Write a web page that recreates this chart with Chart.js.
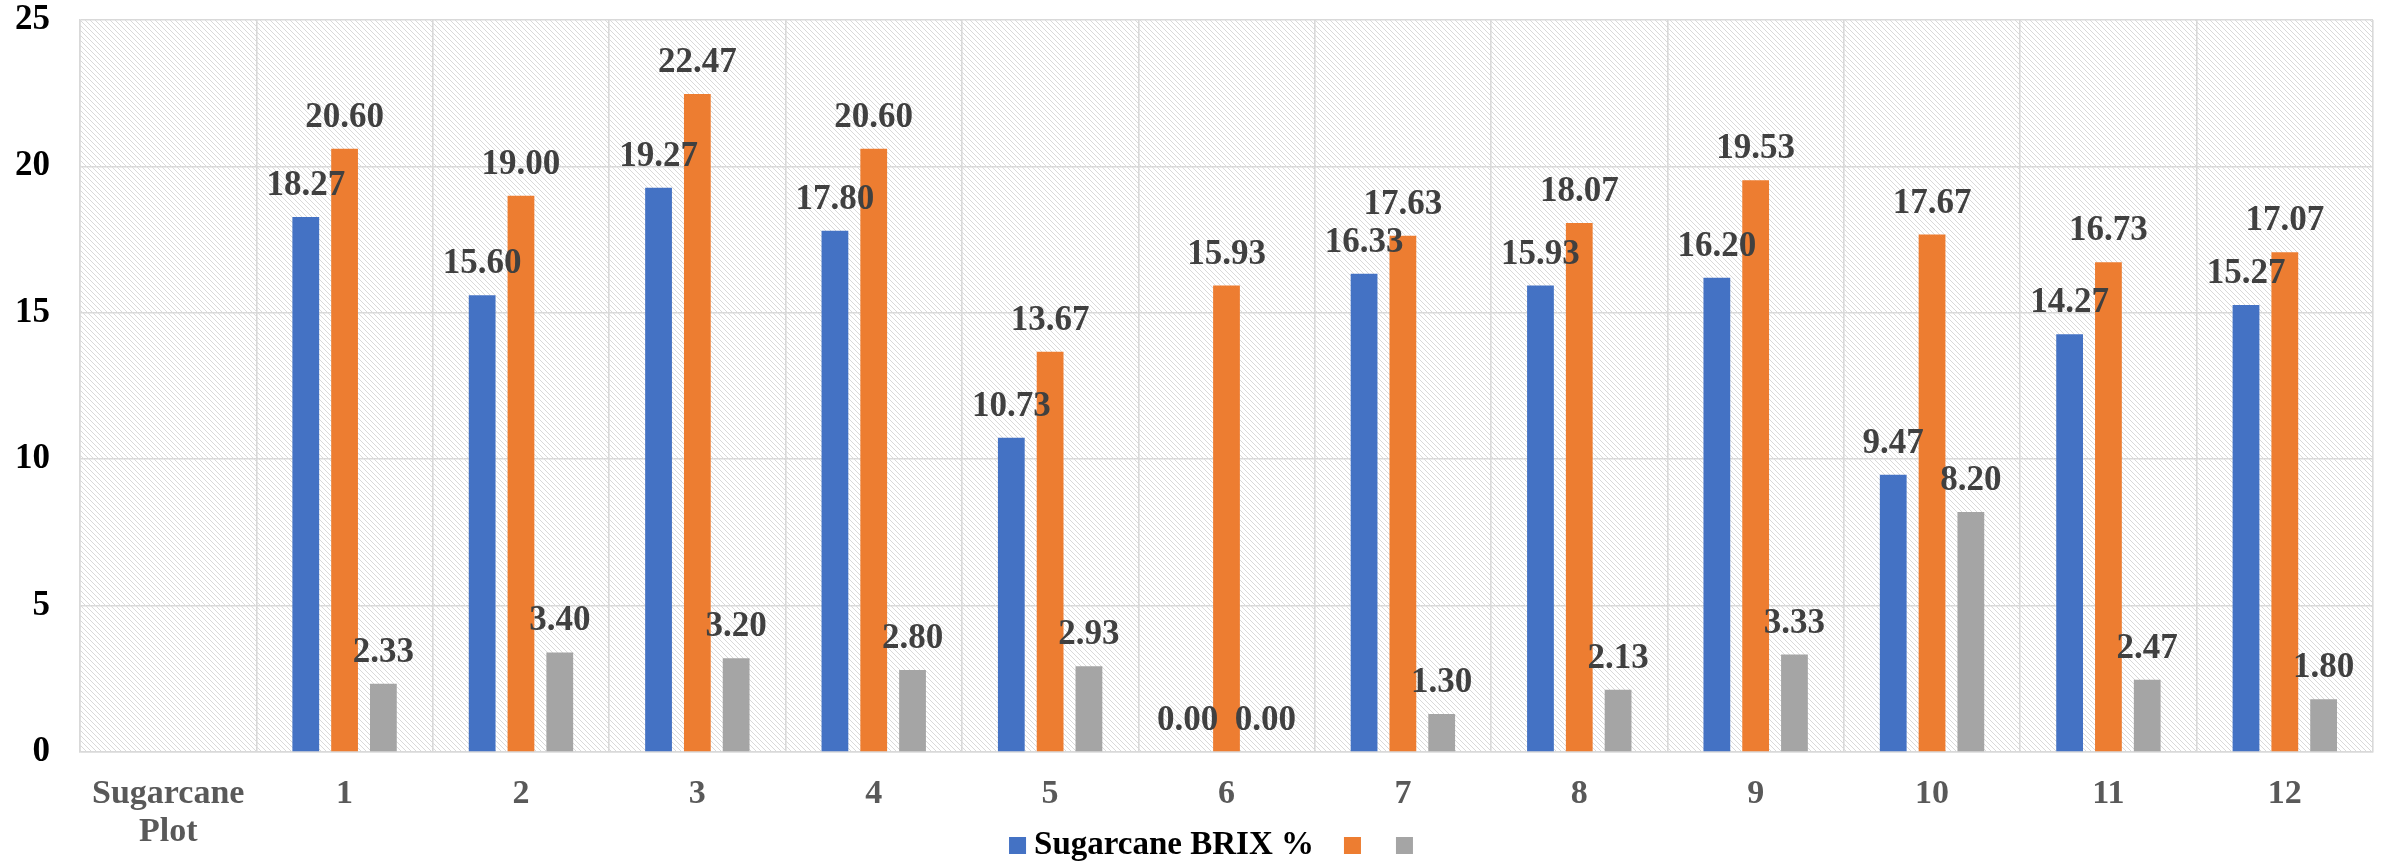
<!DOCTYPE html>
<html>
<head>
<meta charset="utf-8">
<script src="https://cdn.jsdelivr.net/npm/chart.js@4.4.1/dist/chart.umd.min.js"></script>
<style>
html,body{margin:0;padding:0;background:#fff;}
#wrap{width:2386px;height:862px;position:relative;}
</style>
</head>
<body>
<div id="wrap"><canvas id="c" width="2386" height="862"></canvas></div>
<script>
const categories = [["Sugarcane","Plot"],"1","2","3","4","5","6","7","8","9","10","11","12"];
const seriesNames = ["Sugarcane BRIX %", "", ""];
const brixBlue   = [null,18.27,15.60,19.27,17.80,10.73,0.00,16.33,15.93,16.20,9.47,14.27,15.27];
const brixOrange = [null,20.60,19.00,22.47,20.60,13.67,15.93,17.63,18.07,19.53,17.67,16.73,17.07];
const brixGray   = [null,2.33,3.40,3.20,2.80,2.93,0.00,1.30,2.13,3.33,8.20,2.47,1.80];
const yTicks = [0,5,10,15,20,25];

const SERIF = "'Liberation Serif', 'DejaVu Serif', serif";
const colors = ["#4472C4", "#ED7D31", "#A5A5A5"];

function makePattern(ctx){
  const t = document.createElement('canvas');
  t.width = 5; t.height = 5;
  const g = t.getContext('2d');
  g.fillStyle = '#ffffff'; g.fillRect(0,0,5,5);
  g.strokeStyle = '#d9d9d9'; g.lineWidth = 1;
  g.beginPath();
  g.moveTo(-1,-1); g.lineTo(6,6);
  g.moveTo(-6,-1); g.lineTo(1,6);
  g.moveTo(4,-1); g.lineTo(11,6);
  g.stroke();
  return ctx.createPattern(t,'repeat');
}

const hatchPlugin = {
  id: 'hatch',
  beforeDraw(chart){
    const {ctx, chartArea:a} = chart;
    ctx.save();
    ctx.fillStyle = makePattern(ctx);
    ctx.fillRect(a.left, a.top, a.right-a.left, a.bottom-a.top);
    ctx.restore();
  }
};

const labelPlugin = {
  id: 'vals',
  afterDatasetsDraw(chart){
    const ctx = chart.ctx;
    ctx.save();
    ctx.font = "bold 35px " + SERIF;
    ctx.fillStyle = '#404040';
    ctx.textAlign = 'center';
    ctx.textBaseline = 'middle';
    chart.data.datasets.forEach((ds, di) => {
      const meta = chart.getDatasetMeta(di);
      meta.data.forEach((el, i) => {
        const v = ds.data[i];
        if (v === null || v === undefined) return;
        ctx.fillText(v.toFixed(2), el.x, el.y - 31);
      });
    });
    ctx.restore();
  }
};

// custom legend drawn below the axis labels (the axis labels and legend share vertical space)
const legendPlugin = {
  id: 'customLegend',
  afterDraw(chart){
    const ctx = chart.ctx;
    ctx.save();
    ctx.font = "bold 33px " + SERIF;
    const box = 17, gapText = 8, gapItem = 30, gapEmpty = 35;
    const items = chart.data.datasets.map(ds => ({text: ds.label, color: ds.backgroundColor}));
    let total = 0;
    items.forEach((it, i) => {
      const w = it.text ? box + gapText + ctx.measureText(it.text).width : box;
      it.w = w;
      total += w;
      if (i < items.length - 1) total += it.text ? gapItem : gapEmpty;
    });
    let x = chart.width / 2 + 18 - total / 2;
    const cy = 845;
    items.forEach((it, i) => {
      ctx.fillStyle = it.color;
      ctx.fillRect(x, cy - 8, box, box);
      if (it.text) {
        ctx.fillStyle = '#000000';
        ctx.textAlign = 'left';
        ctx.textBaseline = 'middle';
        ctx.fillText(it.text, x + box + gapText, cy);
      }
      x += it.w + (it.text ? gapItem : gapEmpty);
    });
    ctx.restore();
  }
};

const datasets = [brixBlue, brixOrange, brixGray].map((d, i) => ({
  label: seriesNames[i],
  data: d,
  backgroundColor: colors[i],
  borderWidth: 0,
  categoryPercentage: 0.66,
  barPercentage: 0.69
}));

new Chart(document.getElementById('c'), {
  type: 'bar',
  data: { labels: categories, datasets },
  options: {
    responsive: false,
    animation: false,
    devicePixelRatio: 1,
    layout: { padding: { top: 0, right: 13, left: 0, bottom: 0 } },
    plugins: {
      tooltip: { enabled: false },
      legend: { display: false }
    },
    scales: {
      x: {
        grid: { color: '#d9d9d9', lineWidth: 1.6, drawTicks: false, offset: true },
        border: { color: '#d9d9d9', width: 1.6 },
        ticks: {
          font: { family: SERIF, size: 34, weight: 'bold', lineHeight: 1.1 },
          color: '#595959',
          padding: 24,
          maxRotation: 0,
          autoSkip: false
        },
        afterFit(scale){ scale.height = 110; }
      },
      y: {
        min: 0, max: 25,
        afterBuildTicks(scale){ scale.ticks = yTicks.map(v => ({value: v})); },
        grid: { color: '#d9d9d9', lineWidth: 1.6, drawTicks: false },
        border: { color: '#d9d9d9', width: 1.6 },
        ticks: {
          font: { family: SERIF, size: 35, weight: 'bold' },
          color: '#000000',
          padding: 30
        },
        afterFit(scale){ scale.width = 80; scale.paddingTop = 20; scale.paddingBottom = 0; }
      }
    }
  },
  plugins: [hatchPlugin, labelPlugin, legendPlugin]
});
</script>
</body>
</html>
